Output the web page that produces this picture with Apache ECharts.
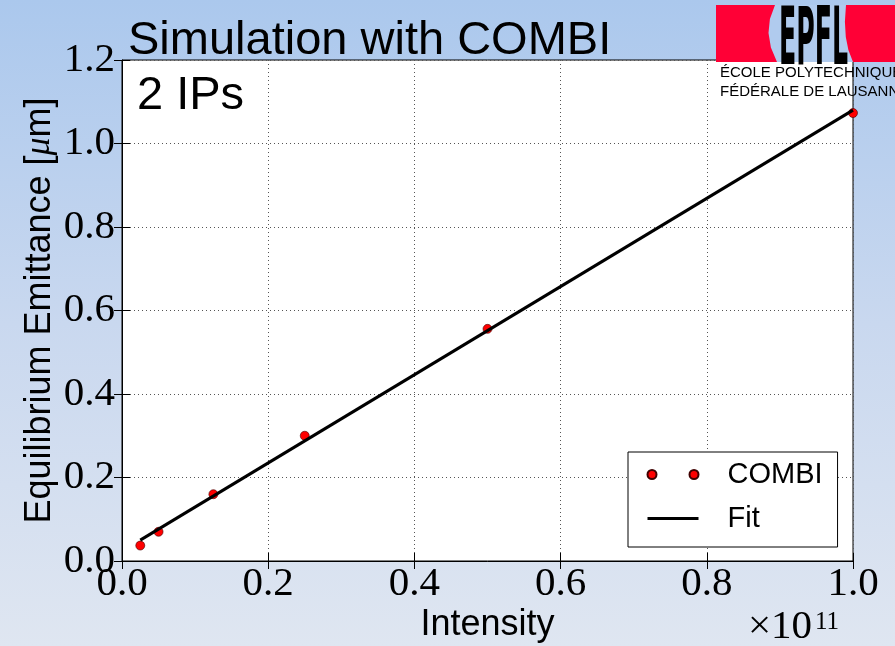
<!DOCTYPE html>
<html>
<head>
<meta charset="utf-8">
<script src="https://cdn.jsdelivr.net/npm/echarts@6/dist/echarts.min.js"></script>
<style>
html,body{margin:0;padding:0;}
#chart{width:895px;height:646px;background:linear-gradient(to bottom,#abc8ed 0%,#c9d8ef 50%,#dfe6f1 100%);}
</style>
</head>
<body>
<div id="chart"></div>
<script>
// ---- data ----
const intensity = [0.025, 0.05, 0.125, 0.25, 0.5, 1.0];      // x 1e11
const emittance = [0.037, 0.070, 0.160, 0.300, 0.556, 1.073]; // um
const fitX = [0.025, 1.0];
const fitY = [0.050, 1.080];
const xTicks = [0.0, 0.2, 0.4, 0.6, 0.8, 1.0];
const yTicks = [0.0, 0.2, 0.4, 0.6, 0.8, 1.0, 1.2];
const titleText = 'Simulation with COMBI';
const subText = '2 IPs';

const chart = echarts.init(document.getElementById('chart'), null, {renderer: 'canvas'});
const serif = '"Liberation Serif", "DejaVu Serif", serif';
const sans = '"Liberation Sans", Arial, sans-serif';

const combiData = intensity.map((x, i) => [x, emittance[i]]);
const fitData = fitX.map((x, i) => [x, fitY[i]]);

const twoDots = 'path://M0,4.5a4.5,4.5 0 1,0 9,0a4.5,4.5 0 1,0 -9,0ZM42,4.5a4.5,4.5 0 1,0 9,0a4.5,4.5 0 1,0 -9,0Z';

const baseX = {
  type: 'value', min: xTicks[0], max: xTicks[xTicks.length - 1], interval: 0.2
};
const baseY = {
  type: 'value', min: yTicks[0], max: yTicks[yTicks.length - 1], interval: 0.2
};

chart.setOption({
  animation: false,
  backgroundColor: 'transparent',
  grid: {
    left: 122, top: 60, width: 731, height: 501,
    containLabel: false, outerBoundsMode: 'none',
    show: true, backgroundColor: '#ffffff', borderColor: '#000', borderWidth: 1
  },
  legend: {
    orient: 'vertical', left: 628, top: 452,
    padding: [8, 15, 14, 18],
    backgroundColor: '#ffffff', borderColor: '#000', borderWidth: 1, borderRadius: 0,
    itemWidth: 51, itemHeight: 9, itemGap: 15,
    selectedMode: false,
    textStyle: {fontFamily: sans, fontSize: 29, color: '#000', padding: [0, 0, 0, 24]},
    data: [
      {name: 'COMBI', icon: twoDots},
      {name: 'Fit', itemStyle: {opacity: 0, borderWidth: 0}, lineStyle: {color: '#000', width: 3}}
    ]
  },
  xAxis: [
    Object.assign({}, baseX, {
      position: 'bottom',
      name: 'Intensity', nameLocation: 'middle', nameGap: 46, nameMoveOverlap: false,
      nameTextStyle: {fontFamily: sans, fontSize: 36, color: '#000'},
      axisLine: {show: true, lineStyle: {color: '#000', width: 1}},
      axisTick: {show: true, inside: true, length: 8, lineStyle: {color: '#000', width: 1}},
      axisLabel: {show: true, margin: 3, fontFamily: serif, fontSize: 41, color: '#000',
        showMinLabel: true, showMaxLabel: true, formatter: v => v.toFixed(1)},
      splitLine: {show: true, lineStyle: {color: '#555', width: 1, type: [1, 3]}}
    }),
    Object.assign({}, baseX, {
      position: 'top',
      axisLine: {show: false},
      axisTick: {show: true, inside: true, length: 8, lineStyle: {color: '#000', width: 1}},
      axisLabel: {show: false},
      splitLine: {show: false}
    })
  ],
  yAxis: [
    Object.assign({}, baseY, {
      position: 'left',
      name: 'Equilibrium Emittance [{mu|μ}m]', nameLocation: 'middle', nameGap: 64, nameRotate: 90,
      nameMoveOverlap: false,
      nameTextStyle: {fontFamily: sans, fontSize: 36, color: '#000',
        rich: {mu: {fontFamily: serif, fontStyle: 'italic', fontSize: 36, color: '#000'}}},
      axisLine: {show: true, lineStyle: {color: '#000', width: 1}},
      axisTick: {show: true, inside: true, length: 8, lineStyle: {color: '#000', width: 1}},
      axisLabel: {show: true, margin: 7, fontFamily: serif, fontSize: 41, color: '#000',
        showMinLabel: true, showMaxLabel: true, formatter: v => v.toFixed(1)},
      splitLine: {show: true, lineStyle: {color: '#555', width: 1, type: [1, 3]}}
    }),
    Object.assign({}, baseY, {
      position: 'right',
      axisLine: {show: false},
      axisTick: {show: true, inside: true, length: 8, lineStyle: {color: '#000', width: 1}},
      axisLabel: {show: false},
      splitLine: {show: false}
    })
  ],
  series: [
    {
      name: 'COMBI', type: 'scatter', data: combiData,
      symbol: 'circle', symbolSize: 9, z: 2,
      itemStyle: {color: '#ff0000', borderColor: '#400000', borderWidth: 0.6, opacity: 1}
    },
    {
      name: 'Fit', type: 'line', data: fitData,
      symbol: 'none', showSymbol: false, z: 3,
      lineStyle: {color: '#000000', width: 3},
      itemStyle: {color: '#000000'}
    }
  ],
  graphic: [
    {type: 'text', x: 128, y: 40.7, z: 10,
      style: {text: titleText, font: '47px ' + sans, fill: '#000', align: 'left', verticalAlign: 'middle'}},
    {type: 'text', x: 137, y: 96.2, z: 10,
      style: {text: subText, font: '47px ' + sans, fill: '#000', align: 'left', verticalAlign: 'middle'}},
    {type: 'text', x: 748, y: 627, z: 10,
      style: {text: '×10', font: '41px ' + serif, fill: '#000', align: 'left', verticalAlign: 'middle'}},
    {type: 'text', x: 815, y: 622, z: 10,
      style: {text: '11', font: '25px ' + serif, fill: '#000', align: 'left', verticalAlign: 'middle'}},
    // EPFL logo
    {type: 'rect', z: 20, shape: {x: 716, y: 5, width: 179, height: 57}, style: {fill: '#ff0036'}},
    {type: 'polygon', z: 21, shape: {points: [
      [775, 5], [769.9, 19], [768.5, 33], [770.9, 47.5], [777, 62],
      [853, 62], [848.4, 50], [845.8, 37], [844.9, 21.7], [846, 5]
    ]}, style: {fill: '#b0cbee'}},
    {type: 'text', x: 779, y: 43, scaleX: 0.36, scaleY: 1.15, z: 22,
      style: {text: 'EPFL', x: 0, y: 0, font: 'bold 70px "DejaVu Sans", sans-serif', fill: '#000', align: 'left', verticalAlign: 'middle'}},
    {type: 'text', x: 720, y: 73, z: 22,
      style: {text: 'ÉCOLE POLYTECHNIQUE', font: '15px ' + sans, fill: '#000', align: 'left', verticalAlign: 'middle'}},
    {type: 'text', x: 720, y: 91.5, z: 22,
      style: {text: 'FÉDÉRALE DE LAUSANNE', font: '15px ' + sans, fill: '#000', align: 'left', verticalAlign: 'middle'}}
  ]
});
</script>
</body>
</html>
